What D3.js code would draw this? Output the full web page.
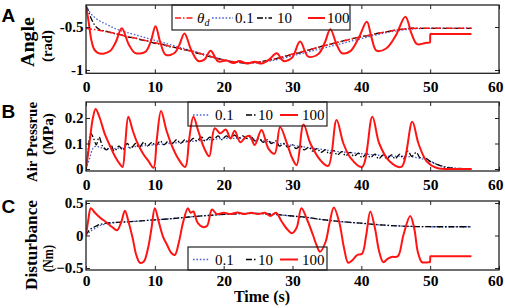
<!DOCTYPE html>
<html><head><meta charset="utf-8">
<script src="https://cdn.jsdelivr.net/npm/d3@7"></script>
<style>html,body{margin:0;padding:0;background:#fff;} svg{display:block;}</style>
</head><body>
<svg id="c" width="505" height="308"></svg>
<script>
// ---------------- data ----------------
const xTicks = [0, 10, 20, 30, 40, 50, 60];
const angleTicks = [-1, -0.5];
const pressureTicks = [0, 0.1, 0.2];
const disturbanceTicks = [-0.5, 0, 0.5];
const gainLabels = ["0.1", "10", "100"];

// Panel A: angle (rad)
const angleRef = [[0,-0.515],[2,-0.54],[4,-0.57],[6,-0.61],[8,-0.645],[10,-0.683],[12,-0.72],[14,-0.757],[16,-0.795],[18,-0.84],[20,-0.884],[22,-0.91],[24,-0.915],[26,-0.895],[28,-0.86],[30,-0.815],[32,-0.775],[34,-0.73],[36,-0.69],[38,-0.65],[40,-0.613],[42,-0.58],[44,-0.55],[46,-0.525],[48,-0.515],[50,-0.515],[52,-0.515],[54,-0.515],[56,-0.515]];
const angleK01 = [[0,-0.25],[0.5,-0.32],[1,-0.37],[2,-0.43],[3,-0.47],[4,-0.51],[5,-0.54],[6,-0.565],[8,-0.61],[10,-0.655],[12,-0.70],[14,-0.745],[16,-0.79],[18,-0.835],[20,-0.88],[22,-0.91],[24,-0.922],[26,-0.905],[28,-0.875],[30,-0.835],[32,-0.795],[34,-0.755],[36,-0.715],[38,-0.675],[40,-0.635],[42,-0.595],[44,-0.56],[46,-0.535],[48,-0.52],[50,-0.515],[52,-0.515],[54,-0.515],[56,-0.515]];
const angleK10 = [[0,-0.25],[0.4,-0.33],[0.8,-0.41],[1.2,-0.47],[1.6,-0.51],[2,-0.53],[3,-0.55],[4,-0.575],[5,-0.59],[6,-0.615],[7,-0.625],[8,-0.65],[9,-0.665],[10,-0.69],[11,-0.70],[12,-0.725],[13,-0.74],[14,-0.76],[15,-0.775],[16,-0.8],[17,-0.82],[18,-0.845],[19,-0.865],[20,-0.885],[21,-0.9],[22,-0.91],[23,-0.92],[24,-0.915],[25,-0.905],[26,-0.895],[27,-0.88],[28,-0.86],[29,-0.84],[30,-0.815],[31,-0.8],[32,-0.775],[33,-0.755],[34,-0.73],[35,-0.71],[36,-0.69],[37,-0.67],[38,-0.65],[39,-0.63],[40,-0.613],[41,-0.6],[42,-0.58],[43,-0.565],[44,-0.55],[45,-0.535],[46,-0.525],[47,-0.515],[48,-0.515],[56,-0.515]];
const angleK100 = [[0,-0.25],[0.4,-0.45],[0.8,-0.66],[1.2,-0.76],[1.7,-0.8],[2.5,-0.81],[3.5,-0.78],[4.3,-0.68],[5.2,-0.515],[6.2,-0.7],[7.1,-0.8],[8.6,-0.79],[9.4,-0.67],[10.1,-0.49],[10.8,-0.68],[11.6,-0.825],[12.9,-0.8],[13.6,-0.7],[14.3,-0.575],[15.3,-0.77],[16.3,-0.895],[17.2,-0.88],[18.1,-0.775],[19.2,-0.9],[20.4,-0.89],[21.4,-0.92],[22.3,-0.895],[23.3,-0.925],[24.5,-0.905],[25.5,-0.925],[26.6,-0.88],[27.7,-0.805],[28.7,-0.895],[29.9,-0.86],[31.1,-0.67],[32.3,-0.845],[33.8,-0.81],[34.7,-0.68],[35.5,-0.527],[36.4,-0.7],[37.2,-0.805],[38.4,-0.78],[39.6,-0.63],[40.8,-0.44],[41.5,-0.63],[42.2,-0.775],[43.6,-0.75],[45,-0.6],[46.4,-0.38],[47.3,-0.58],[48.1,-0.70],[49.3,-0.685],[49.9,-0.68],[49.97,-0.68],[50.03,-0.58],[50.1,-0.58],[53,-0.58],[56,-0.58]];

// Panel B: air pressure (MPa)
const pressK01 = [[0,0],[0.5,0.04],[1,0.08],[1.5,0.09],[2,0.085],[3,0.08],[4,0.08],[6,0.085],[8,0.09],[10,0.095],[12,0.1],[14,0.105],[16,0.11],[18,0.115],[20,0.12],[22,0.12],[24,0.118],[26,0.11],[28,0.1],[30,0.093],[32,0.085],[34,0.078],[36,0.07],[38,0.065],[40,0.06],[42,0.055],[44,0.05],[46,0.05],[48,0.045],[50,0.03],[51,0.018],[52,0.01],[53,0.005],[54,0.002],[56,0]];
const pressK10 = [[0,0],[0.3,0.07],[0.7,0.14],[1.1,0.12],[1.5,0.095],[1.9,0.125],[2.4,0.09],[3,0.075],[3.6,0.095],[4.1,0.07],[4.8,0.09],[5.3,0.075],[6,0.1],[6.5,0.08],[7.2,0.1],[7.7,0.085],[8.4,0.105],[8.9,0.09],[9.6,0.105],[10.1,0.09],[10.8,0.11],[11.3,0.095],[12,0.11],[12.5,0.1],[13.2,0.115],[13.7,0.1],[14.4,0.115],[14.9,0.105],[15.6,0.12],[16.1,0.11],[16.8,0.125],[17.3,0.11],[18,0.125],[18.5,0.115],[19.2,0.13],[19.7,0.115],[20.4,0.13],[20.9,0.12],[21.6,0.133],[22.1,0.12],[22.8,0.13],[23.3,0.12],[24,0.128],[24.5,0.11],[25.2,0.12],[25.7,0.105],[26.4,0.115],[26.9,0.1],[27.6,0.11],[28.1,0.09],[28.8,0.1],[29.3,0.085],[30,0.095],[30.5,0.08],[31.2,0.09],[31.7,0.075],[32.4,0.085],[32.9,0.07],[33.6,0.08],[34.1,0.065],[34.8,0.075],[35.3,0.06],[36,0.072],[36.5,0.055],[37.2,0.068],[37.7,0.052],[38.4,0.065],[38.9,0.05],[39.6,0.062],[40.1,0.045],[40.8,0.06],[41.3,0.045],[42,0.058],[42.5,0.04],[43.2,0.055],[43.7,0.04],[44.4,0.055],[44.9,0.04],[45.6,0.058],[46.1,0.04],[46.8,0.07],[47.3,0.05],[48,0.065],[48.5,0.045],[49.2,0.045],[50,0.03],[51,0.018],[52,0.008],[53,0.004],[54,0.002],[56,0]];
const pressK100 = [[0,0],[0.5,0.1],[1,0.2],[1.4,0.235],[2,0.2],[2.7,0.14],[3.5,0.09],[4.2,0.05],[4.9,0.02],[5.3,0.008],[5.7,0.1],[6.15,0.205],[6.8,0.15],[7.5,0.1],[8.3,0.06],[9.1,0.03],[9.8,0.005],[10.3,0.12],[10.9,0.227],[11.7,0.15],[12.5,0.09],[13.3,0.045],[14.4,0.008],[15,0.12],[15.6,0.205],[16.3,0.15],[17.2,0.08],[17.9,0.05],[18.7,0.16],[19.5,0.14],[20.3,0.155],[21,0.12],[21.6,0.15],[22.4,0.105],[23.2,0.125],[23.8,0.13],[24.5,0.094],[25.5,0.153],[26.5,0.08],[27.4,0.06],[28.2,0.165],[29.2,0.1],[30,0.04],[30.6,0.016],[31.6,0.175],[32.6,0.1],[34.2,0.03],[35.2,0.012],[36.4,0.192],[37.4,0.1],[38.4,0.045],[40.1,0.008],[41.6,0.205],[42.6,0.1],[44.1,0.03],[45.8,0.008],[47.4,0.185],[48.3,0.1],[49.5,0.03],[51,0.004],[54,0],[56,0]];

// Panel C: disturbance (Nm)
const distK01 = [[0,0],[0.5,0.05],[1,0.09],[1.5,0.12],[2,0.15],[3,0.18],[4,0.195],[6,0.21],[8,0.225],[10,0.24],[12,0.255],[14,0.275],[16,0.295],[18,0.31],[20,0.325],[22,0.335],[24,0.338],[26,0.333],[28,0.318],[30,0.298],[32,0.276],[34,0.248],[36,0.223],[38,0.203],[40,0.187],[42,0.168],[44,0.154],[46,0.144],[48,0.137],[50,0.135],[52,0.135],[54,0.135],[56,0.135]];
const distK10 = [[0,0],[0.3,0.06],[0.7,0.1],[1.2,0.13],[2,0.17],[3,0.19],[4,0.2],[6,0.21],[8,0.225],[10,0.24],[12,0.255],[14,0.275],[16,0.295],[18,0.31],[20,0.325],[22,0.335],[24,0.34],[26,0.335],[28,0.32],[30,0.3],[32,0.28],[34,0.25],[36,0.225],[38,0.205],[40,0.19],[42,0.17],[44,0.155],[46,0.145],[48,0.138],[50,0.135],[52,0.135],[54,0.135],[56,0.135]];
const distK100 = [[0,0],[0.35,0.25],[0.7,0.42],[1.3,0.35],[2.1,0.27],[3,0.2],[3.8,0.13],[4.5,0.08],[5.1,0.2],[5.65,0.38],[6.2,0.2],[6.8,-0.05],[7.3,-0.3],[7.85,-0.42],[8.4,-0.4],[9,-0.2],[9.5,0.1],[10,0.42],[10.6,0.2],[11.2,-0.02],[11.8,-0.15],[12.4,-0.27],[12.9,-0.3],[13.5,-0.1],[14.1,0.2],[14.8,0.42],[15.2,0.35],[15.6,0.37],[16.2,0.2],[17,0.13],[17.6,0.15],[18.3,0.4],[19,0.33],[20,0.35],[21,0.33],[22,0.355],[23,0.33],[24,0.35],[25,0.33],[26,0.35],[26.8,0.3],[27.6,0.35],[28.4,0.22],[29.2,0.1],[29.9,0.035],[30.6,0.12],[31.3,0.42],[32.1,0.25],[33,0.0],[33.5,-0.15],[34,-0.25],[34.8,-0.1],[35.4,0.2],[36,0.43],[36.8,0.2],[37.5,-0.2],[38.1,-0.42],[38.7,-0.38],[39.4,-0.3],[40.1,-0.28],[40.7,0.0],[41.3,0.37],[42,0.1],[42.6,-0.25],[43.2,-0.41],[43.8,-0.36],[44.4,-0.33],[45.3,-0.32],[46.1,0.0],[47.1,0.3],[47.7,0.1],[48.2,-0.25],[48.8,-0.41],[49.3,-0.415],[49.9,-0.41],[49.97,-0.41],[50.03,-0.32],[50.1,-0.32],[53,-0.32],[56,-0.32]];

// ---------------- drawing ----------------
const svg = d3.select("#c");
const RED = "#ff1414", BLUE = "#4a62d4", BLACK = "#000";
const SERIF = "'Liberation Serif','Times New Roman',serif";
const SANS = "'Liberation Sans',Arial,sans-serif";

const x = d3.scaleLinear().domain([0, 60]).range([86, 499]);

const styles = {
  k01:  {stroke: BLUE, width: 1.3, dash: "1.6,1.8"},
  k10:  {stroke: BLACK, width: 1.3, dash: "6,2,1.5,2"},
  k100: {stroke: RED, width: 2, dash: null},
  ref:  {stroke: RED, width: 1.5, dash: "6,2,1.5,2"}
};

const panels = [
  {id:"A", top:5, bottom:73.3, dom:[-1,-0.5], rng:[70,27], ticks:angleTicks, pad:7.5,
   series:[["k01",angleK01],["k10",angleK10],["ref",angleRef],["k100",angleK100]],
   fmt: d => d === -1 ? "-1" : "-0.5",
   letter:{y:22}, titles:[{t:"Angle",x:34,y:42,size:18,len:50},{t:"(rad)",x:52,y:46,size:15,len:32}],
   legend:{x0:172,x1:350,y0:5,y1:30,cy:18,ty:23,items:[
     {k:"ref",l0:175,l1:193,tx:197,label:"θ"},{k:"k01",l0:212,l1:233,tx:235,label:"0.1"},
     {k:"k10",l0:257,l1:272,tx:277,label:"10"},{k:"k100",l0:308,l1:325,tx:327,label:"100"}]}},
  {id:"B", top:102, bottom:171, dom:[0,0.2], rng:[169,118], ticks:pressureTicks, pad:7.5,
   series:[["k01",pressK01],["k10",pressK10],["k100",pressK100]],
   fmt: d => d === 0 ? "0" : d3.format(".1f")(d),
   letter:{y:118}, titles:[{t:"Air Pressrue",x:37,y:142,size:15,len:80},{t:"(MPa)",x:53,y:134,size:15,len:42}],
   legend:{x0:188,x1:327,y0:102,y1:126,cy:115,ty:120,items:[
     {k:"k01",l0:193,l1:210,tx:215,label:"0.1"},{k:"k10",l0:246,l1:257,tx:258,label:"10"},
     {k:"k100",l0:280,l1:298,tx:302,label:"100"}]}},
  {id:"C", top:201, bottom:270, dom:[-0.5,0.5], rng:[268,203], ticks:disturbanceTicks, pad:5,
   series:[["k01",distK01],["k10",distK10],["k100",distK100]],
   fmt: d => d === 0 ? "0" : d3.format(".1f")(d),
   letter:{y:213}, titles:[{t:"Disturbance",x:37,y:245,size:16,len:90},{t:"(Nm)",x:53,y:258.5,size:15,len:27}],
   legend:{x0:188,x1:327,y0:247,y1:270,cy:259.5,ty:265,items:[
     {k:"k01",l0:193,l1:210,tx:215,label:"0.1"},{k:"k10",l0:246,l1:257,tx:258,label:"10"},
     {k:"k100",l0:280,l1:298,tx:302,label:"100"}]}}
];

panels.forEach((p, i) => {
  const y = d3.scaleLinear().domain(p.dom).range(p.rng);
  const g = svg.append("g");
  const clipId = "clip" + i;
  svg.append("clipPath").attr("id", clipId).append("rect")
    .attr("x", x(0)).attr("y", p.top).attr("width", x(60) - x(0)).attr("height", p.bottom - p.top);

  // lines
  const line = d3.line().x(d => x(d[0])).y(d => y(d[1])).curve(d3.curveCatmullRom.alpha(0.5));
  const lg = g.append("g").attr("clip-path", `url(#${clipId})`);
  p.series.forEach(([k, data]) => {
    const s = styles[k];
    lg.append("path").datum(data).attr("d", line)
      .attr("fill", "none").attr("stroke", s.stroke).attr("stroke-width", s.width)
      .attr("stroke-dasharray", s.dash).attr("stroke-linejoin", "round");
  });

  // axes (ticks inward)
  const bottom = g.append("g").attr("transform", `translate(0,${p.bottom})`)
    .call(d3.axisBottom(x).tickValues(xTicks).tickSizeInner(-4).tickSizeOuter(0).tickPadding(p.pad));
  const top = g.append("g").attr("transform", `translate(0,${p.top})`)
    .call(d3.axisTop(x).tickValues(xTicks).tickSizeInner(-4).tickSizeOuter(0).tickFormat(""));
  const left = g.append("g").attr("transform", `translate(${x(0)},0)`)
    .call(d3.axisLeft(y).tickValues(p.ticks).tickSizeInner(-4).tickSizeOuter(0).tickPadding(2.5).tickFormat(p.fmt));
  const right = g.append("g").attr("transform", `translate(${x(60)},0)`)
    .call(d3.axisRight(y).tickValues(p.ticks).tickSizeInner(-4).tickSizeOuter(0).tickFormat(""));
  [bottom, top, left, right].forEach(a => {
    a.select(".domain").remove();
    a.selectAll(".tick line").attr("stroke", "#222").attr("stroke-width", 1);
  });
  bottom.selectAll("text").attr("font-family", SERIF).attr("font-weight", "bold").attr("font-size", 15.5).attr("fill", "#000");
  // keep the last label inside the picture
  bottom.selectAll(".tick").filter(d => d === 60).select("text").attr("text-anchor", "end").attr("x", 4);
  left.selectAll("text").attr("font-family", SERIF).attr("font-weight", "bold").attr("font-size", 15).attr("fill", "#000");

  // frame
  g.append("rect").attr("x", x(0)).attr("y", p.top).attr("width", x(60) - x(0)).attr("height", p.bottom - p.top)
    .attr("fill", "none").attr("stroke", "#222").attr("stroke-width", 1.3);

  // panel letter
  svg.append("text").attr("x", 1.5).attr("y", p.letter.y).text(p.id)
    .attr("font-family", SANS).attr("font-weight", "bold").attr("font-size", 19);

  // y titles
  p.titles.forEach(t => {
    svg.append("text").attr("transform", `translate(${t.x},${t.y}) rotate(-90)`)
      .attr("text-anchor", "middle").attr("font-family", SERIF).attr("font-weight", "bold")
      .attr("font-size", t.size).attr("textLength", t.len).attr("lengthAdjust", "spacingAndGlyphs").text(t.t);
  });

  // legend
  const L = p.legend;
  svg.append("rect").attr("x", L.x0).attr("y", L.y0).attr("width", L.x1 - L.x0).attr("height", L.y1 - L.y0)
    .attr("fill", "none").attr("stroke", "#222").attr("stroke-width", 1.2);
  L.items.forEach(it => {
    const s = styles[it.k];
    svg.append("line").attr("x1", it.l0).attr("x2", it.l1).attr("y1", L.cy).attr("y2", L.cy)
      .attr("stroke", s.stroke).attr("stroke-width", s.width).attr("stroke-dasharray", s.dash);
    const t = svg.append("text").attr("x", it.tx).attr("y", L.ty)
      .attr("font-family", SERIF).attr("font-size", 15);
    if (it.k === "ref") {
      t.append("tspan").attr("font-style", "italic").text("θ");
      t.append("tspan").attr("font-style", "italic").attr("font-size", 10).attr("dy", 3).text("d");
    } else {
      t.text(it.label);
    }
  });
});

// x-axis title
svg.append("text").attr("x", 262).attr("y", 302).attr("text-anchor", "middle")
  .attr("font-family", SERIF).attr("font-weight", "bold").attr("font-size", 16).text("Time (s)");
</script>
</body></html>
